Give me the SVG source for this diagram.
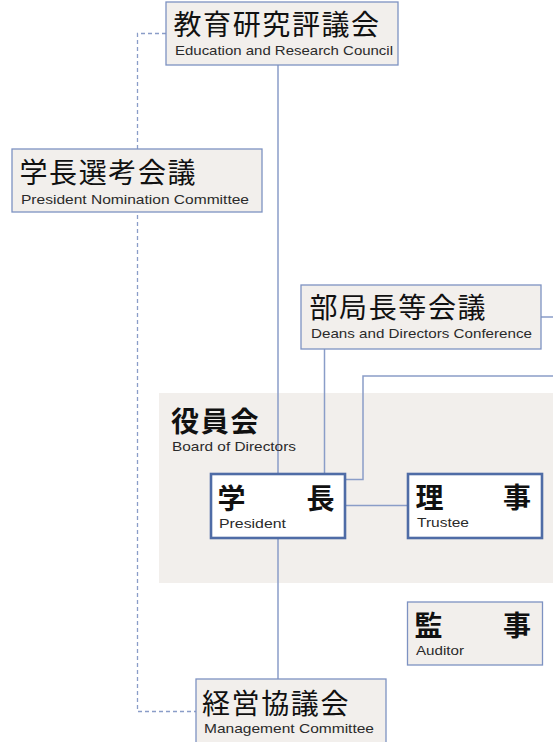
<svg xmlns="http://www.w3.org/2000/svg" width="553" height="742" viewBox="0 0 553 742">
<style>
.box{fill:#f2efec;stroke:#7d92c2;stroke-width:1.3}
.bold{fill:#ffffff;stroke:#4f6ca6;stroke-width:2.6}
.ln{fill:none;stroke:#8a9dc8;stroke-width:1.5}
.dash{fill:none;stroke:#8a9dc8;stroke-width:1.3;stroke-dasharray:4 3}
.jp{font-family:"Noto Sans CJK JP","Noto Sans",sans-serif;font-size:28px;fill:#111;letter-spacing:1.6px}
.jpb{font-family:"Noto Sans CJK JP","Noto Sans",sans-serif;font-size:28px;font-weight:bold;fill:#111}
.en{font-family:"Liberation Sans",Arial,sans-serif;font-size:13.5px;fill:#2a2a2a}
</style>
<rect x="159" y="393" width="394" height="190" fill="#f2efec"/>
<g id="connectors">
<path class="dash" d="M166 33.5 H137.5 V711.5 H196"/>
<path class="ln" d="M278 65 V474"/>
<path class="ln" d="M278 538 V679"/>
<path class="ln" d="M324.5 349 V474"/>
<path class="ln" d="M553 317 H541"/>
<path class="ln" d="M553 376 H363 V479.5 H346"/>
<path class="ln" d="M346 505.5 H408"/>
</g>
<g id="n-council">
<rect class="box" x="166" y="2" width="232" height="63"/>
<text class="jp" x="173.5" y="35">教育研究評議会</text>
<text class="en" x="175" y="55" textLength="218" lengthAdjust="spacingAndGlyphs">Education and Research Council</text>
</g>
<g id="n-nomination">
<rect class="box" x="12" y="149" width="250" height="63"/>
<text class="jp" x="19.5" y="183">学長選考会議</text>
<text class="en" x="21" y="204" textLength="228" lengthAdjust="spacingAndGlyphs">President Nomination Committee</text>
</g>
<g id="n-deans">
<rect class="box" x="301" y="285" width="240" height="64"/>
<text class="jp" x="309.5" y="318">部局長等会議</text>
<text class="en" x="311" y="338" textLength="221" lengthAdjust="spacingAndGlyphs">Deans and Directors Conference</text>
</g>
<g id="n-board">
<text class="jpb" x="171" y="432" letter-spacing="1.8">役員会</text>
<text class="en" x="172" y="451" textLength="124" lengthAdjust="spacingAndGlyphs" fill="#3a3a3a">Board of Directors</text>
</g>
<g id="n-president">
<rect class="bold" x="211" y="474" width="134" height="64"/>
<text class="jpb" x="217.5" y="509">学</text>
<text class="jpb" x="306.5" y="509">長</text>
<text class="en" x="219" y="528" textLength="67" lengthAdjust="spacingAndGlyphs" fill="#3a3a3a">President</text>
</g>
<g id="n-trustee">
<rect class="bold" x="408" y="474" width="134" height="64"/>
<text class="jpb" x="415.5" y="508">理</text>
<text class="jpb" x="503" y="508">事</text>
<text class="en" x="417" y="527" textLength="52" lengthAdjust="spacingAndGlyphs" fill="#3a3a3a">Trustee</text>
</g>
<g id="n-auditor">
<rect class="box" x="407.5" y="602" width="135" height="63"/>
<text class="jpb" x="414.5" y="636" font-weight="500">監</text>
<text class="jpb" x="503" y="636" font-weight="500">事</text>
<text class="en" x="416" y="655" textLength="48" lengthAdjust="spacingAndGlyphs" fill="#3a3a3a">Auditor</text>
</g>
<g id="n-management">
<rect class="box" x="196" y="679" width="190" height="70"/>
<text class="jp" x="202" y="714" font-size="29px" letter-spacing="1.4">経営協議会</text>
<text class="en" x="204" y="733" textLength="170" lengthAdjust="spacingAndGlyphs">Management Committee</text>
</g>
</svg>
